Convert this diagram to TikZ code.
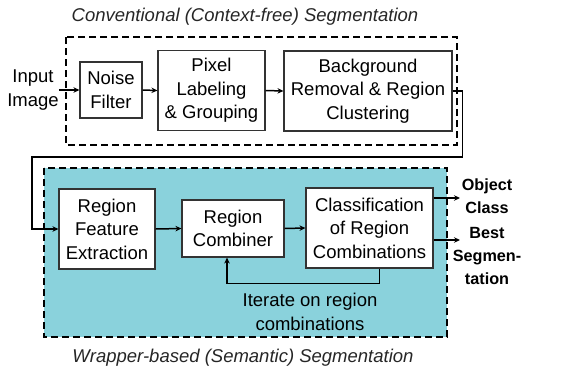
\documentclass[tikz,border=0pt]{standalone}
\usepackage{fontspec}
\setmainfont{Liberation Sans}
\usetikzlibrary{arrows.meta,positioning,calc}
\definecolor{teal1}{RGB}{138,210,220}
\newcommand\bigf{\fontsize{18.5}{23.5}\selectfont}
\tikzset{
  box/.style={draw=black!80,line width=1.1pt,fill=white,align=center,
              inner sep=2pt,font=\bigf},
  dbox/.style={draw=black,line width=1.6pt,dash pattern=on 7pt off 4pt},
  ar/.style ={-{Stealth[length=6pt,width=5.5pt]},line width=1.5pt},
  lbl/.style={align=center,inner sep=0pt,font=\bigf},
  hdr/.style={font=\bigf\itshape,text=black!85},
  outl/.style={font=\fontsize{16.2}{22.8}\selectfont\bfseries,align=center,
               inner sep=0pt},
}

\begin{document}
\begin{tikzpicture}[x=1pt,y=-1pt]
  \useasboundingbox (0,0) rectangle (570,370);
  % the two frames
  \node[hdr] (ttop) at (245,17){Conventional (Context-free) Segmentation};
  \draw[dbox] (66,37) rectangle (457,145);
  \draw[dbox,fill=teal1] (44,168) rectangle (447,337);
  \node[hdr] (tbot) at (243,358){Wrapper-based (Semantic) Segmentation};
  % upper row
  \node[lbl] (input) at (33,90){Input\\Image};
  \node[box,minimum width=62pt,minimum height=56pt] (noise) at (111,90){Noise\\Filter};
  \node[box,minimum width=107pt,minimum height=80pt] (pixel) at (211.5,90.5){Pixel\\Labeling\\\& Grouping};
  \node[box,minimum width=168pt,minimum height=80pt] (bgrem) at (368,91){Background\\Removal \& Region\\Clustering};
  \draw[ar] (input.east) -- (noise.west);
  \draw[ar] (noise.east) -- (pixel.west);
  \draw[ar] (pixel.east) -- (bgrem.west);
  % lower row
  \node[box,minimum width=96pt,minimum height=80pt] (rfe) at (107,229){Region\\Feature\\Extraction};
  \node[box,minimum width=102pt,minimum height=57pt] (comb) at (233,228.5){Region\\Combiner};
  \node[box,minimum width=127pt,minimum height=80pt] (cls) at (369.5,228){Classification\\of Region\\Combinations};
  \draw[ar] (bgrem.east) -- ++(10,0) |- (32,157) |- (rfe.west);
  \draw[ar] (rfe.east) -- (comb.west);
  \draw[ar] (comb.east) -- (cls.west);
  \draw[ar] ([xshift=10pt]cls.south) -- ++(0,15) -| ([xshift=-6pt]comb.south);
  \node[lbl] (iter) at (310,312){Iterate on region\\combinations};
  % outputs
  \node[outl] (obj) at (487,196){Object\\Class};
  \node[outl] (best) at (487,256){Best\\Segmen-\\tation};
  \coordinate (objin) at (460,198);
  \coordinate (bestin) at (460,240);
  \draw[ar] (cls.east |- objin) -- (objin);
  \draw[ar] (cls.east |- bestin) -- (bestin);
\end{tikzpicture}
\end{document}
